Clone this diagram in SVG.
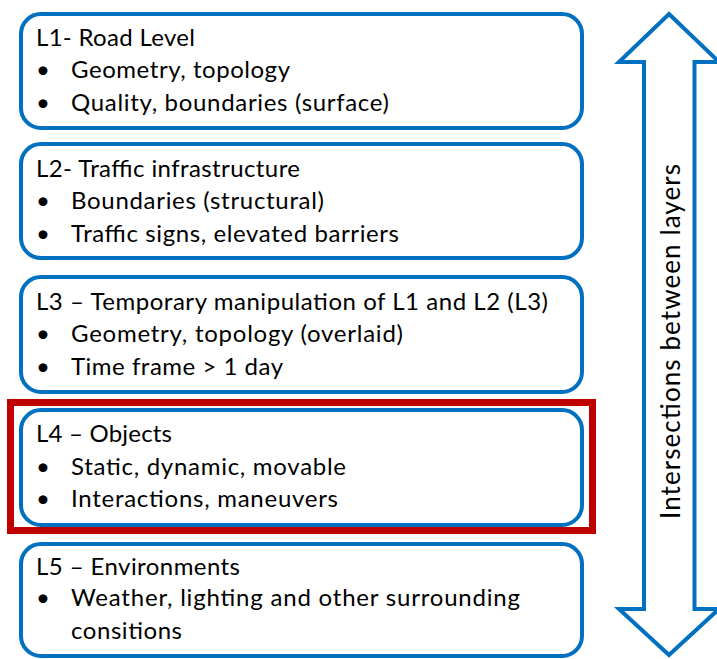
<svg xmlns="http://www.w3.org/2000/svg" width="717" height="659" viewBox="0 0 717 659">
  <style>
    .layer { fill: #FFFFFF; stroke: #0070C0; stroke-width: 4; }
    .hl { fill: none; stroke: #C00000; stroke-width: 7; }
    .arrow { fill: #FFFFFF; stroke: #0070C0; stroke-width: 4; stroke-linejoin: miter; }
    text { font-family: Lato, "Open Sans", "Liberation Sans", sans-serif; font-size: 24px; fill: #000000; }
    .side { font-size: 26px; }
  </style>

  <!-- double-headed arrow spanning all layers -->
  <g id="connectors">
    <polygon class="arrow" points="669,14 719,62 694.5,62 694.5,609 719,609 669,655 619,609 644,609 644,62 619,62"/>
    <text class="side" transform="translate(680,519) rotate(-90)" x="0" y="0" textLength="355" lengthAdjust="spacing">Intersections between layers</text>
  </g>

  <g id="layer1">
    <rect class="layer" x="21" y="14" width="561" height="114" rx="20"/>
    <text x="36" y="46" textLength="159" lengthAdjust="spacing">L1- Road Level</text>
    <text x="36" y="78">•</text>
    <text x="71" y="78" textLength="219" lengthAdjust="spacing">Geometry, topology</text>
    <text x="36" y="111">•</text>
    <text x="71" y="111" textLength="318" lengthAdjust="spacing">Quality, boundaries (surface)</text>
  </g>

  <g id="layer2">
    <rect class="layer" x="21" y="144" width="561" height="114" rx="20"/>
    <text x="36" y="177" textLength="264" lengthAdjust="spacing">L2- Traffic infrastructure</text>
    <text x="36" y="209">•</text>
    <text x="71" y="209" textLength="253" lengthAdjust="spacing">Boundaries (structural)</text>
    <text x="36" y="242">•</text>
    <text x="71" y="242" textLength="328" lengthAdjust="spacing">Traffic signs, elevated barriers</text>
  </g>

  <g id="layer3">
    <rect class="layer" x="21" y="277" width="561" height="115" rx="20"/>
    <text x="36" y="310" textLength="512" lengthAdjust="spacing">L3 – Temporary manipulation of L1 and L2 (L3)</text>
    <text x="36" y="342">•</text>
    <text x="71" y="342" textLength="332" lengthAdjust="spacing">Geometry, topology (overlaid)</text>
    <text x="36" y="375">•</text>
    <text x="71" y="375" textLength="212" lengthAdjust="spacing">Time frame &gt; 1 day</text>
  </g>

  <g id="layer4">
    <rect class="layer" x="21" y="410" width="561" height="115" rx="20"/>
    <text x="36" y="442" textLength="136" lengthAdjust="spacing">L4 – Objects</text>
    <text x="36" y="475">•</text>
    <text x="71" y="475" textLength="275" lengthAdjust="spacing">Static, dynamic, movable</text>
    <text x="36" y="507">•</text>
    <text x="71" y="507" textLength="267" lengthAdjust="spacing">Interactions, maneuvers</text>
  </g>

  <!-- highlight frame around L4 -->
  <g id="highlight">
    <rect class="hl" x="10.5" y="402.5" width="582" height="128"/>
  </g>

  <g id="layer5">
    <rect class="layer" x="21" y="544" width="561" height="112" rx="20"/>
    <text x="36" y="575" textLength="204" lengthAdjust="spacing">L5 – Environments</text>
    <text x="36" y="606">•</text>
    <text x="71" y="606" textLength="449" lengthAdjust="spacing">Weather, lighting and other surrounding</text>
    <text x="71" y="639" textLength="111" lengthAdjust="spacing">consitions</text>
  </g>
</svg>
